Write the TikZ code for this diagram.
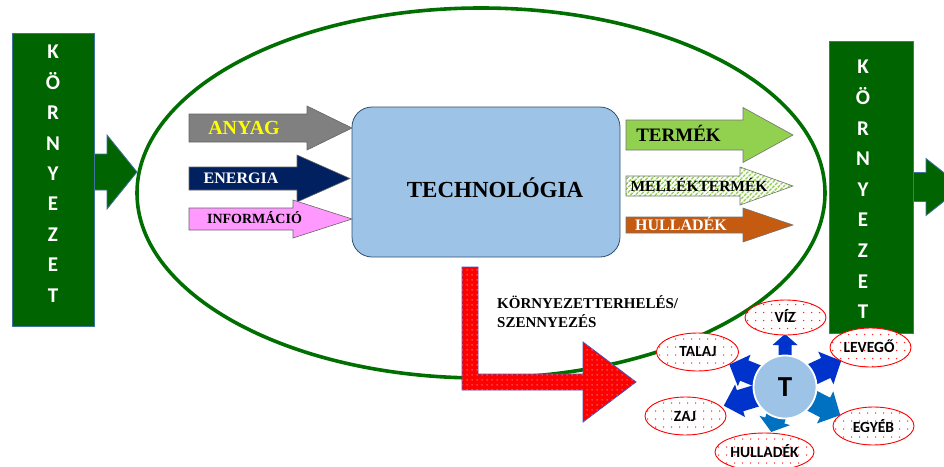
\documentclass[tikz,border=0pt]{standalone}
\usepackage{fontspec}
\setmainfont{Liberation Serif}
\newfontfamily\calib{Carlito}
\usetikzlibrary{patterns.meta}

\definecolor{envgreen}{RGB}{0,100,0}
\definecolor{ringgreen}{RGB}{0,110,0}
\definecolor{edgeblue}{RGB}{65,113,156}
\definecolor{techblue}{RGB}{157,195,230}
\definecolor{anyagc}{RGB}{128,128,128}
\definecolor{energiac}{RGB}{0,32,96}
\definecolor{infoc}{RGB}{255,153,255}
\definecolor{termekc}{RGB}{146,208,80}
\definecolor{hulladekc}{RGB}{197,90,17}
\definecolor{polred}{RGB}{255,0,0}
\definecolor{polblue}{RGB}{68,84,196}
\definecolor{rayblueA}{RGB}{0,51,204}
\definecolor{rayblueB}{RGB}{0,112,192}

% dotted and striped fills
\tikzdeclarepattern{name=finedots, type=uncolored,
  bounding box={(0,0) and (5pt,5pt)}, tile size={(5pt,5pt)},
  code={\fill (2.5pt,2.5pt) circle (0.65pt);}}
\tikzdeclarepattern{name=greenstripes, type=uncolored,
  bounding box={(0,0) and (4.4pt,4.4pt)}, tile size={(4.4pt,4.4pt)},
  tile transformation={rotate=45},
  code={\fill (0,0) rectangle (4.4pt,2.2pt);}}

% horizontal block arrow: style, x start, x head base, x tip, y centre, shaft half, head half
\newcommand\harrow[7]{%
  \path[#1] (#2,#5-#6) -- (#3,#5-#6) -- (#3,#5-#7) -- (#4,#5)
    -- (#3,#5+#7) -- (#3,#5+#6) -- (#2,#5+#6) -- cycle;}

% radial block arrow around the origin of the current scope
% style, angle, r start, r head base, r tip, shaft half, head half
\newcommand\rarrow[7]{%
  \begin{scope}[rotate=#2]
    \path[#1] (#3,-#6) -- (#4,-#6) -- (#4,-#7) -- (#5,0)
      -- (#4,#7) -- (#4,#6) -- (#3,#6) -- cycle;
  \end{scope}}

\newcommand\fs[1]{\fontsize{#1}{#1}\selectfont}

\tikzset{
  envbox/.style={fill=envgreen, draw=edgeblue, line width=0.8},
  envletter/.style={anchor=base, text=white, font=\calib\bfseries\fs{21}, inner sep=0},
  lbl/.style={anchor=base, font=\bfseries, inner sep=0},
  impactrim/.style={draw=polred, line width=0.9},
  impactdot/.style={fill=polred!85},
  impactlbl/.style={anchor=base, font=\calib\bfseries\fs{15.5}, inner sep=0}
}

% impact bubble: centre x, centre y, x radius, y radius -- white, sprinkled with red dots
\newcommand\bubble[4]{%
  \fill[white] (#1,#2) ellipse [x radius=#3, y radius=#4];
  \begin{scope}
    \clip (#1,#2) ellipse [x radius=#3, y radius=#4];
    \foreach \dx in {-56,-48,...,56}
      \foreach \dy in {-24,-16,...,24}
        \fill[impactdot] ({#1+\dx+2},{#2+\dy+3}) circle (0.75);
  \end{scope}
  \path[impactrim] (#1,#2) ellipse [x radius=#3, y radius=#4];}

\begin{document}
\begin{tikzpicture}[x=1pt,y=-1pt]
\useasboundingbox (0,0) rectangle (944,466);

% the technology system boundary
\draw[ringgreen, line width=3.6] (481,193) ellipse [x radius=344, y radius=185];

% environment on the input side
\harrow{envbox}{90}{107}{137}{172}{18}{37}
\path[envbox] (12,33) rectangle (94,326);
\foreach \ch [count=\i from 0] in {K,Ö,R,N,Y,E,Z,E,T}
  \node[envletter] (inl\i) at (53,{58.8+30.4*\i}) {\ch};

% environment on the output side
\harrow{envbox}{905}{926}{962}{187}{14.5}{28.5}
\path[envbox] (829,41) rectangle (913,333);
\foreach \ch [count=\i from 0] in {K,Ö,R,N,Y,E,Z,E,T}
  \node[envletter] (outl\i) at (863,{73.8+30.6*\i}) {\ch};

% technology core
\node[draw=edgeblue!70!black, fill=techblue, line width=0.8, rounded corners=20,
      minimum width=268, minimum height=150, inner sep=0] (tech) at (486,182) {};
\node[lbl, font=\bfseries\fs{23}] (techlbl) at (495,197) {TECHNOLÓGIA};

% inputs
\harrow{fill=anyagc, draw=black!60, line width=0.6}{189}{307}{352}{128}{14}{22}
\node[lbl, font=\bfseries\fs{20}, text={rgb,255:red,255;green,255;blue,0}] (anyag) at (244,134.5) {ANYAG};
\harrow{fill=energiac, draw=black!60, line width=0.6}{189}{297}{350}{178.5}{11.5}{23.5}
\node[lbl, font=\bfseries\fs{16}, text=white] (energia) at (241,183.5) {ENERGIA};
\harrow{fill=infoc, draw=black!60, line width=0.6}{189}{293}{352}{219}{11}{19}
\node[lbl, font=\bfseries\fs{14}] (info) at (254.5,223.5) {INFORMÁCIÓ};

% outputs
\harrow{fill=termekc, draw=black!55, line width=0.6}{626}{743}{793}{135}{15}{27.5}
\node[lbl, font=\bfseries\fs{19}] (termek) at (678.5,141) {TERMÉK};
\harrow{fill=white}{626}{740}{793}{186}{10}{19}
\harrow{pattern=greenstripes, pattern color=termekc}{626}{740}{793}{186}{10}{19}
\harrow{draw=black!55, line width=0.6}{626}{740}{793}{186}{10}{19}
\node[lbl, font=\bfseries\fs{15.5}] (mellek) at (699,191.5) {MELLÉKTERMÉK};
\harrow{fill=hulladekc, draw=black!55, line width=0.6}{626}{743}{793}{225}{8}{17}
\node[lbl, font=\bfseries\fs{16}, text=white] (hulladek) at (681,230.5) {HULLADÉK};

% environmental load
\path[fill=polred, postaction={pattern=finedots, pattern color=white}, draw=polblue, line width=0.8]
  (462,267) -- (478,267) -- (478,374) -- (583,374) -- (583,342) -- (636,382)
  -- (583,422) -- (583,390) -- (462,390) -- cycle;
\node[lbl, font=\bfseries\fs{15}, anchor=base west] (load1) at (497,308) {KÖRNYEZETTERHELÉS/};
\node[lbl, font=\bfseries\fs{15}, anchor=base west] (load2) at (497,327) {SZENNYEZÉS};

% impacts spreading from the technology
\begin{scope}[shift={(785,387)}]
  \rarrow{fill=rayblueA}{90}{20}{42}{53}{6.5}{12.5}
  \rarrow{fill=rayblueA}{25}{20}{45}{62}{11}{18}
  \rarrow{fill=rayblueB}{-27}{20}{45}{62}{11}{18}
  \rarrow{fill=rayblueB}{-107}{20}{35}{47}{10}{16}
  \rarrow{fill=rayblueA}{-163}{20}{47}{64}{11}{17}
  \rarrow{fill=rayblueA}{158}{20}{44}{60}{11}{17}
\end{scope}
\node[circle, fill=techblue, draw=white, line width=1.8, minimum size=63, inner sep=0] (tcore) at (785,387) {};
\node[impactlbl, font=\calib\bfseries\fs{29}] (tlbl) at (785,396.5) {T};

\bubble{785.5}{317.5}{40.5}{17.5}
\node[impactlbl] (viz) at (785,322) {VÍZ};
\bubble{870.5}{347.5}{40.5}{19.5}
\node[impactlbl] (levego) at (869,352) {LEVEGŐ};
\bubble{697.5}{352}{41}{19}
\node[impactlbl] (talaj) at (698,356) {TALAJ};
\bubble{685.5}{416}{40.5}{19}
\node[impactlbl] (zaj) at (685,421.5) {ZAJ};
\bubble{873.5}{426}{40.5}{19}
\node[impactlbl] (egyeb) at (873.5,432) {EGYÉB};
\bubble{764.5}{452}{49.5}{19}
\node[impactlbl] (hulladek2) at (764.5,457) {HULLADÉK};
\end{tikzpicture}
\end{document}
